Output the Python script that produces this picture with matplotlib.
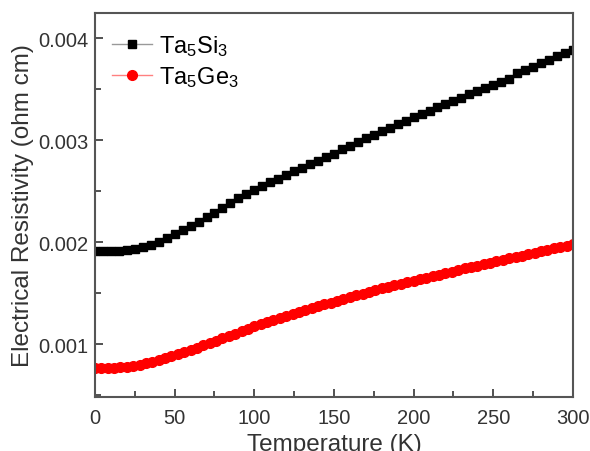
import numpy as np
import matplotlib.pyplot as plt
from matplotlib.ticker import MultipleLocator, FormatStrFormatter

plt.rcParams['font.family'] = ['Liberation Sans', 'DejaVu Sans']
plt.rcParams['mathtext.fontset'] = 'custom'
plt.rcParams['mathtext.rm'] = 'Liberation Sans'

# Ta5Si3, measured every 5 K (resistivity in 1e-3 ohm cm)
temp_si = list(range(0, 301, 5))
rho_si = [1.91, 1.91, 1.91, 1.91, 1.92, 1.93, 1.95, 1.97, 2.00, 2.04,
          2.08, 2.12, 2.16, 2.20, 2.25, 2.29, 2.34, 2.38, 2.43, 2.47,
          2.51, 2.55, 2.59, 2.62, 2.66, 2.70, 2.73, 2.77, 2.80, 2.84,
          2.87, 2.91, 2.94, 2.98, 3.02, 3.05, 3.09, 3.12, 3.16, 3.19,
          3.23, 3.26, 3.29, 3.33, 3.36, 3.39, 3.42, 3.45, 3.48, 3.51,
          3.54, 3.57, 3.60, 3.66, 3.69, 3.72, 3.76, 3.79, 3.83, 3.86,
          3.89]

# Ta5Ge3, measured every 4 K
temp_ge = list(range(0, 301, 4))
rho_ge = [0.765, 0.765, 0.765, 0.767, 0.770, 0.775, 0.785, 0.797, 0.810, 0.825,
          0.842, 0.860, 0.878, 0.898, 0.920, 0.942, 0.965, 0.988, 1.010, 1.033,
          1.057, 1.080, 1.103, 1.126, 1.150, 1.175, 1.197, 1.218, 1.239, 1.259,
          1.279, 1.298, 1.317, 1.335, 1.353, 1.371, 1.389, 1.406, 1.425, 1.443,
          1.461, 1.479, 1.496, 1.513, 1.530, 1.546, 1.562, 1.578, 1.593, 1.608,
          1.622, 1.637, 1.652, 1.667, 1.682, 1.697, 1.712, 1.727, 1.742, 1.756,
          1.770, 1.784, 1.798, 1.812, 1.826, 1.840, 1.854, 1.868, 1.882, 1.896,
          1.910, 1.924, 1.938, 1.952, 1.966, 1.980]

fig = plt.figure(figsize=(5.9, 4.52), dpi=100)
ax = fig.add_axes([0.161, 0.1195, 0.81, 0.8495])

ax.plot(temp_si, np.array(rho_si) * 1e-3, color='#999999', lw=1.0,
        marker='s', ms=6.3, mfc='black', mec='black',
        label=r'Ta$\mathregular{_5}$Si$\mathregular{_3}$')
ax.plot(temp_ge, np.array(rho_ge) * 1e-3, color='#ff8080', lw=1.0,
        marker='o', ms=7, mfc='red', mec='red',
        label=r'Ta$\mathregular{_5}$Ge$\mathregular{_3}$')

ax.set_xlim(0, 300)
ax.set_ylim(0.00048, 0.00425)
ax.xaxis.set_major_locator(MultipleLocator(50))
ax.xaxis.set_minor_locator(MultipleLocator(25))
ax.yaxis.set_major_locator(MultipleLocator(0.001))
ax.yaxis.set_minor_locator(MultipleLocator(0.0005))
ax.yaxis.set_major_formatter(FormatStrFormatter('%.3f'))

ax.tick_params(which='both', direction='in', top=False, right=False,
               colors='#333333', labelsize=14.5, pad=5)
ax.tick_params(axis='x', which='both', pad=8)
ax.tick_params(which='major', length=6, width=1.2)
ax.tick_params(which='minor', length=4, width=1.2)
for s in ax.spines.values():
    s.set_color('#555555')
    s.set_linewidth(1.5)

ax.set_xlabel('Temperature (K)', fontsize=17.5, color='#333333', labelpad=4)
ax.set_ylabel('Electrical Resistivity (ohm cm)', fontsize=17.5, color='#333333', labelpad=3)

ax.legend(loc='upper left', frameon=False, fontsize=17, numpoints=1,
          handlelength=1.7, handletextpad=0.3, labelspacing=0.25,
          borderaxespad=0.3, bbox_to_anchor=(0.0, 0.99))

fig.savefig('out.png', dpi=100)
